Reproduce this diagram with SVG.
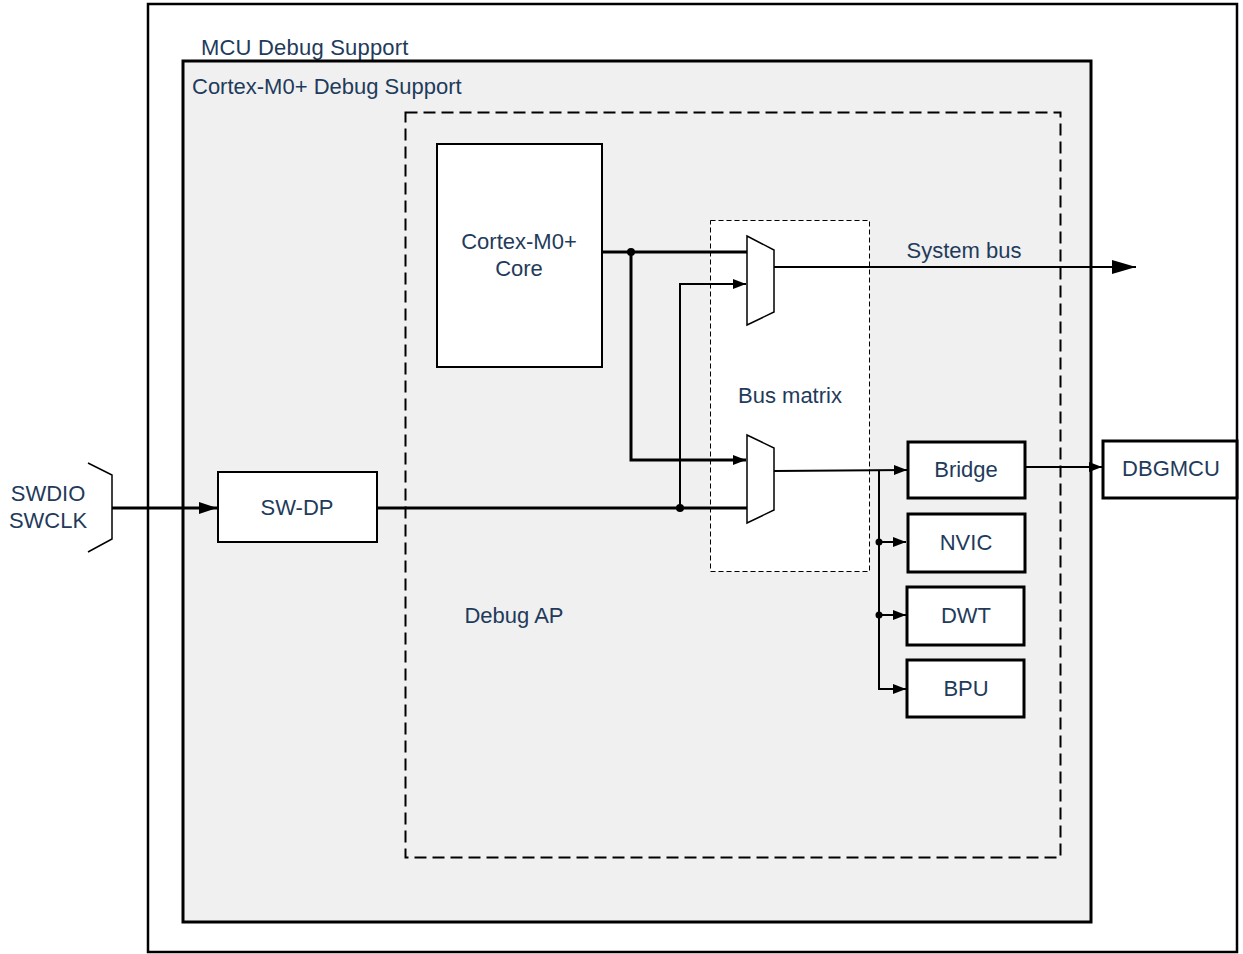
<svg xmlns="http://www.w3.org/2000/svg" width="1243" height="954" viewBox="0 0 1243 954">
<style>
text{font-family:"Liberation Sans",Arial,sans-serif;font-size:22px;fill:#1f3b5b}
.c{text-anchor:middle}
.box{fill:#fff;stroke:#000;stroke-width:3}
.thick{fill:none;stroke:#000;stroke-width:3}
.thin{fill:none;stroke:#000;stroke-width:2}
</style>
<defs>
<marker id="aL" markerUnits="userSpaceOnUse" markerWidth="18" markerHeight="14" refX="18" refY="7" orient="auto"><path d="M0,1 L18,7 L0,13 Z" fill="#000"/></marker>
<marker id="aM" markerUnits="userSpaceOnUse" markerWidth="13" markerHeight="12" refX="13" refY="6" orient="auto"><path d="M0,1 L13,6 L0,11 Z" fill="#000"/></marker>
<marker id="aXL" markerUnits="userSpaceOnUse" markerWidth="24" markerHeight="16" refX="24" refY="8" orient="auto"><path d="M0,1 L24,8 L0,15 Z" fill="#000"/></marker>
</defs>
<g id="mcu-debug-support">
<rect x="148" y="4" width="1089" height="948" fill="#fff" stroke="#000" stroke-width="2.5"/>
<text x="201" y="55" style="letter-spacing:0.2px">MCU Debug Support</text>
</g>
<g id="cortex-debug-support">
<rect x="183" y="61" width="908" height="861" fill="#f0f0f0" stroke="#000" stroke-width="3"/>
<text x="192" y="94">Cortex-M0+ Debug Support</text>
</g>
<g id="debug-ap">
<rect x="405.5" y="112.5" width="655" height="745" fill="none" stroke="#000" stroke-width="2" stroke-dasharray="12,6"/>
<text class="c" x="514" y="623">Debug AP</text>
</g>
<g id="bus-matrix">
<rect x="710.5" y="220.5" width="159" height="351" fill="#fff" stroke="#000" stroke-width="1" stroke-dasharray="5,3"/>
<text class="c" x="790" y="403">Bus matrix</text>
</g>
<g id="core">
<rect x="437" y="144" width="165" height="223" fill="#fff" stroke="#000" stroke-width="2"/>
<text class="c" x="519" y="249">Cortex-M0+</text>
<text class="c" x="519" y="276">Core</text>
</g>
<g id="swd-pins">
<path d="M88,463 L112,475 L112,539 L88,552" fill="none" stroke="#000" stroke-width="1.5"/>
<text class="c" x="48" y="501">SWDIO</text>
<text class="c" x="48" y="528">SWCLK</text>
</g>
<g id="sw-dp">
<rect x="218" y="472" width="159" height="70" fill="#fff" stroke="#000" stroke-width="2"/>
<text class="c" x="297" y="515">SW-DP</text>
</g>
<g id="mux1">
<path d="M747,236 L774,250 L774,312 L747,325 Z" fill="#fff" stroke="#000" stroke-width="1.5"/>
</g>
<g id="mux2">
<path d="M747,435 L774,448 L774,510 L747,523 Z" fill="#fff" stroke="#000" stroke-width="1.5"/>
</g>
<g id="bridge">
<rect class="box" x="908" y="442" width="117" height="56"/>
<text class="c" x="966" y="477">Bridge</text>
</g>
<g id="nvic">
<rect class="box" x="908" y="514" width="117" height="58"/>
<text class="c" x="966" y="550">NVIC</text>
</g>
<g id="dwt">
<rect class="box" x="907" y="587" width="117" height="58"/>
<text class="c" x="966" y="623">DWT</text>
</g>
<g id="bpu">
<rect class="box" x="907" y="660" width="117" height="57"/>
<text class="c" x="966" y="696">BPU</text>
</g>
<g id="dbgmcu">
<rect class="box" x="1103" y="441" width="134" height="57"/>
<text class="c" x="1171" y="476">DBGMCU</text>
</g>
<g id="connectors">
<path class="thick" d="M112,508 H217" marker-end="url(#aL)"/>
<path class="thick" d="M377,508 H747"/>
<path class="thin" d="M680,508 V284 H746" marker-end="url(#aM)"/>
<path class="thick" d="M602,252 H747"/>
<path class="thick" d="M631,252 V460 H746" marker-end="url(#aM)"/>
<path class="thin" d="M774,267 H1136" marker-end="url(#aXL)"/>
<text class="c" x="964" y="258">System bus</text>
<path class="thin" d="M774,471 L907,470" marker-end="url(#aM)"/>
<path class="thin" d="M879,470 V689 H906" marker-end="url(#aM)"/>
<path class="thin" d="M879,542 H906" marker-end="url(#aM)"/>
<path class="thin" d="M879,615 H906" marker-end="url(#aM)"/>
<path class="thin" d="M1025,467 H1102" marker-end="url(#aM)"/>
<circle cx="631" cy="252" r="4"/>
<circle cx="680" cy="508" r="4"/>
<circle cx="879" cy="542" r="3.5"/>
<circle cx="879" cy="615" r="3.5"/>
</g>
</svg>
